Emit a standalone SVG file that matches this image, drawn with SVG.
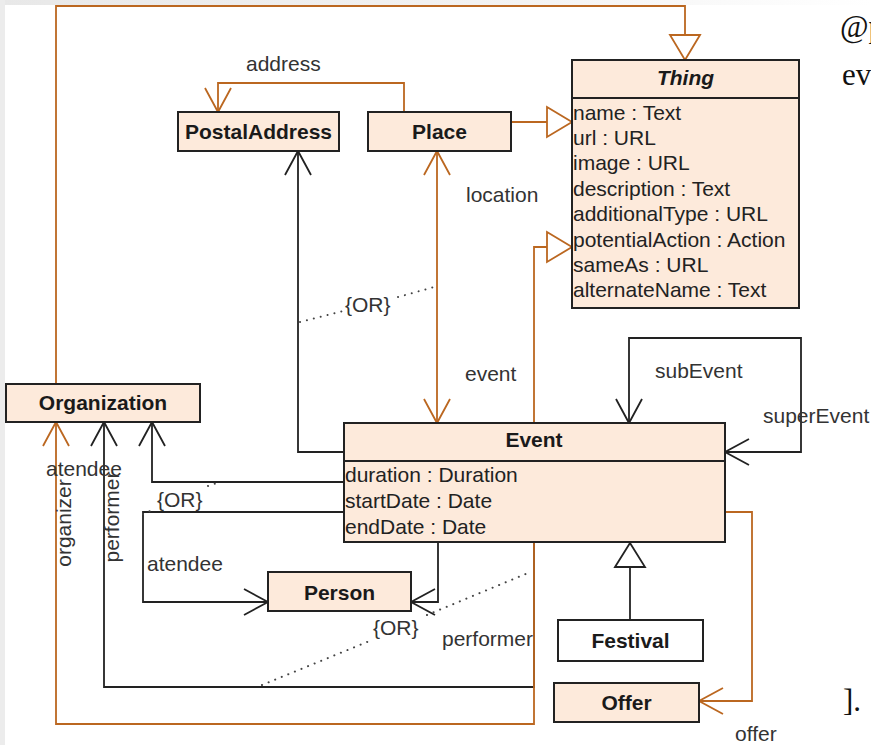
<svg xmlns="http://www.w3.org/2000/svg" width="871" height="745" viewBox="0 0 871 745">
<style>
.box{fill:#fdeadb;stroke:#222;stroke-width:2}
.wbox{fill:#fff;stroke:#222;stroke-width:2}
.ttl{font-family:"Liberation Sans",Arial,sans-serif;font-size:21px;font-weight:bold;fill:#1a1a1a;text-anchor:middle}
.att{font-family:"Liberation Sans",Arial,sans-serif;font-size:21px;fill:#222}
.lbl{font-family:"Liberation Sans",Arial,sans-serif;font-size:21px;fill:#333}
.ser{font-family:"Liberation Serif","Times New Roman",serif;font-size:31px;fill:#111}
.or{fill:none;stroke:#bb6720;stroke-width:1.8}
.bk{fill:none;stroke:#222;stroke-width:1.8}
.dot{fill:none;stroke:#444;stroke-width:2;stroke-dasharray:0.1 7;stroke-linecap:round}
</style>
<defs>
<linearGradient id="gt" x1="0" y1="0" x2="1" y2="0"><stop offset="0" stop-color="#e8e8e8"/><stop offset="0.6" stop-color="#f3f3f3"/><stop offset="1" stop-color="#ffffff"/></linearGradient>
<marker id="vO" markerUnits="userSpaceOnUse" markerWidth="30" markerHeight="30" orient="auto-start-reverse" overflow="visible" refX="0" refY="0"><path d="M-24,-13 L0,0 L-24,13" fill="none" stroke="#bb6720" stroke-width="1.8"/></marker>
<marker id="vB" markerUnits="userSpaceOnUse" markerWidth="30" markerHeight="30" orient="auto-start-reverse" overflow="visible" refX="0" refY="0"><path d="M-24,-13 L0,0 L-24,13" fill="none" stroke="#222" stroke-width="1.8"/></marker>
<marker id="tO" markerUnits="userSpaceOnUse" markerWidth="30" markerHeight="30" orient="auto" overflow="visible" refX="0" refY="0"><path d="M-25,-15 L0,0 L-25,15 Z" fill="#fff" stroke="#bb6720" stroke-width="1.8"/></marker>
<marker id="tB" markerUnits="userSpaceOnUse" markerWidth="30" markerHeight="30" orient="auto" overflow="visible" refX="0" refY="0"><path d="M-24,-15 L0,0 L-24,15 Z" fill="#fff" stroke="#222" stroke-width="1.8"/></marker>
</defs>
<rect x="0" y="0" width="871" height="745" fill="#fff"/>
<rect x="0" y="0" width="871" height="5" fill="url(#gt)"/>
<rect x="0" y="0" width="5" height="745" fill="#ececec"/>

<g id="connectors">
<path class="or" d="M56,384 V6 H685 V60" marker-end="url(#tO)"/>
<path class="or" d="M511,122 H572" marker-end="url(#tO)"/>
<path class="or" d="M534,423 V247 H572" marker-end="url(#tO)"/>
<path class="or" d="M404,112 V83 H218 V112" marker-end="url(#vO)"/>
<path class="or" d="M437,151 V423" marker-start="url(#vO)" marker-end="url(#vO)"/>
<path class="bk" d="M344,452 H298 V151" marker-end="url(#vB)"/>
<path class="bk" d="M344,482 H152 V422" marker-end="url(#vB)"/>
<path class="bk" d="M344,512 H143 V602 H268" marker-end="url(#vB)"/>
<path class="bk" d="M438,542 V602 H411" marker-end="url(#vB)"/>
<path class="bk" d="M534,542 V687 H104 V422" marker-end="url(#vB)"/>
<path class="or" d="M534,542 V724 H56 V422" marker-end="url(#vO)"/>
<path class="bk" d="M629,423 V338 H801 V452 H725" marker-start="url(#vB)" marker-end="url(#vB)"/>
<path class="bk" d="M630,620 V543" marker-end="url(#tB)"/>
<path class="or" d="M725,512 H752 V701 H699" marker-end="url(#vO)"/>
<path class="dot" d="M300,322 L343,311 M398,297 L438,286"/>
<path class="dot" d="M143,514 L155,509 M208,486 L220,482"/>
<path class="dot" d="M262,685 L372,640 M427,615 L528,573"/>
</g>

<g id="labels">
<text class="lbl" x="246" y="70.5">address</text>
<text class="lbl" x="466" y="202">location</text>
<text class="lbl" x="465" y="381">event</text>
<text class="lbl" x="655" y="377.5">subEvent</text>
<text class="lbl" x="763" y="422.5">superEvent</text>
<text class="lbl" x="46" y="475.5">atendee</text>
<text class="lbl" x="147" y="570.5">atendee</text>
<text class="lbl" x="442" y="645.5">performer</text>
<text class="lbl" x="735" y="741">offer</text>
<text class="lbl" x="345" y="312">{OR}</text>
<text class="lbl" x="157" y="507">{OR}</text>
<text class="lbl" x="373" y="635">{OR}</text>
<text class="lbl" transform="translate(65,523) rotate(-90)" text-anchor="middle" dy="6">organizer</text>
<text class="lbl" transform="translate(113,517) rotate(-90)" text-anchor="middle" dy="6">performer</text>
</g>

<g id="PostalAddress">
<rect class="box" x="178" y="112" width="161" height="39"/>
<text class="ttl" x="258.5" y="138.5">PostalAddress</text>
</g>
<g id="Place">
<rect class="box" x="368" y="112" width="143" height="39"/>
<text class="ttl" x="439.5" y="138.5">Place</text>
</g>
<g id="Thing">
<rect class="box" x="572" y="60" width="227" height="248"/>
<line x1="572" y1="98" x2="799" y2="98" stroke="#222" stroke-width="2"/>
<text class="ttl" x="685.5" y="84.5" font-style="italic">Thing</text>
<text class="att" x="573" y="119.5">name : Text</text>
<text class="att" x="573" y="144.9">url : URL</text>
<text class="att" x="573" y="170.3">image : URL</text>
<text class="att" x="573" y="195.7">description : Text</text>
<text class="att" x="573" y="221.1">additionalType : URL</text>
<text class="att" x="573" y="246.5">potentialAction : Action</text>
<text class="att" x="573" y="271.9">sameAs : URL</text>
<text class="att" x="573" y="297.3">alternateName : Text</text>
</g>
<g id="Organization">
<rect class="box" x="6" y="384" width="194" height="38"/>
<text class="ttl" x="103" y="409.5">Organization</text>
</g>
<g id="Event">
<rect class="box" x="344" y="423" width="381" height="119"/>
<line x1="344" y1="461" x2="725" y2="461" stroke="#222" stroke-width="2"/>
<text class="ttl" x="534" y="446.5">Event</text>
<text class="att" x="345" y="481.5">duration : Duration</text>
<text class="att" x="345" y="507.5">startDate : Date</text>
<text class="att" x="345" y="533.5">endDate : Date</text>
</g>
<g id="Person">
<rect class="box" x="268" y="572" width="143" height="39"/>
<text class="ttl" x="339.5" y="599.5">Person</text>
</g>
<g id="Festival">
<rect class="wbox" x="558" y="620" width="145" height="41"/>
<text class="ttl" x="630.5" y="647.5">Festival</text>
</g>
<g id="Offer">
<rect class="box" x="554" y="683" width="145" height="39"/>
<text class="ttl" x="626.5" y="709.5">Offer</text>
</g>

<g id="sidetext">
<text class="ser" x="840" y="37">@p</text>
<text class="ser" x="842" y="85">ev</text>
<text class="ser" x="843" y="711">].</text>
</g>
</svg>
